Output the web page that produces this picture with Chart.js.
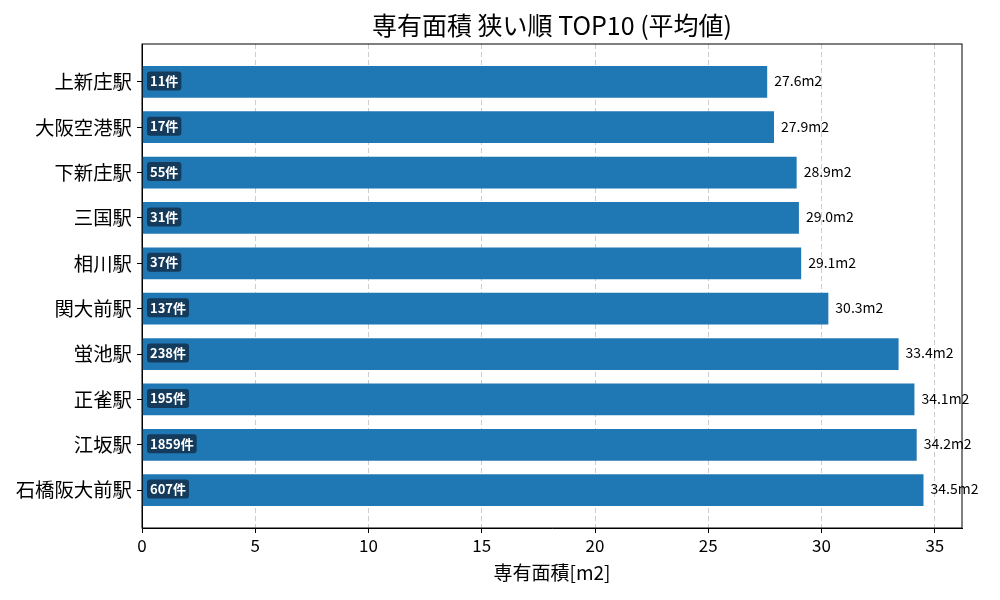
<!DOCTYPE html>
<html>
<head>
<meta charset="utf-8">
<script src="https://cdn.jsdelivr.net/npm/chart.js@4.4.1/dist/chart.umd.min.js"></script>
<style>
  html, body { margin: 0; padding: 0; background: #fff; }
  #wrap { width: 1000px; height: 600px; }
</style>
</head>
<body>
<div id="wrap"><canvas id="chart" width="1000" height="600"></canvas></div>
<script>
const stations = ['上新庄駅', '大阪空港駅', '下新庄駅', '三国駅', '相川駅', '関大前駅', '蛍池駅', '正雀駅', '江坂駅', '石橋阪大前駅'];
const areas = [27.6, 27.9, 28.9, 29.0, 29.1, 30.3, 33.4, 34.1, 34.2, 34.5];
const counts = [11, 17, 55, 31, 37, 137, 238, 195, 1859, 607];
const xTicks = [0, 5, 10, 15, 20, 25, 30, 35];
const titleText = '専有面積 狭い順 TOP10 (平均値)';

const FONT = "'Noto Sans CJK JP', 'Noto Sans', sans-serif";

// box around plot area + title centred over it
const frame = {
    id: 'frame',
    afterDraw(chart) {
        const { ctx, chartArea: a } = chart;
        ctx.save();
        ctx.strokeStyle = '#000';
        ctx.lineWidth = 1;
        ctx.strokeRect(a.left, a.top, a.right - a.left, a.bottom - a.top);
        ctx.font = `25px ${FONT}`;
        ctx.fillStyle = '#000';
        ctx.textAlign = 'center';
        ctx.textBaseline = 'middle';
        ctx.fillText(titleText, (a.left + a.right) / 2, 25);
        ctx.restore();
    }
};

// value labels to the right, counts inside at left
const barLabels = {
    id: 'barLabels',
    afterDatasetsDraw(chart) {
        const { ctx } = chart;
        const meta = chart.getDatasetMeta(0);
        const xs = chart.scales.x;
        ctx.save();
        meta.data.forEach((bar, i) => {
            ctx.font = `14px ${FONT}`;
            ctx.fillStyle = '#000';
            ctx.textAlign = 'left';
            ctx.textBaseline = 'middle';
            ctx.fillText(areas[i].toFixed(1) + 'm2', bar.x + 7, bar.y - 1);

            const txt = counts[i] + '件';
            ctx.font = `bold 13px ${FONT}`;
            const w = ctx.measureText(txt).width;
            const bx = xs.getPixelForValue(0) + 5;
            const bh = 19;
            ctx.fillStyle = '#143b5c';
            ctx.beginPath();
            ctx.roundRect(bx, bar.y - bh / 2 - 1, w + 6, bh, 3);
            ctx.fill();
            ctx.fillStyle = '#fff';
            ctx.fillText(txt, bx + 3, bar.y - 1);
        });
        ctx.restore();
    }
};

new Chart(document.getElementById('chart'), {
    type: 'bar',
    data: {
        datasets: [{
            data: areas.map((v, i) => ({ x: v, y: i })),
            backgroundColor: '#1f77b4',
            borderWidth: 0,
            barPercentage: 0.7,
            categoryPercentage: 1.0
        }]
    },
    options: {
        indexAxis: 'y',
        responsive: false,
        animation: false,
        layout: { padding: { left: 0, right: 38, top: 44, bottom: 16 } },
        plugins: {
            legend: { display: false },
            tooltip: { enabled: false },
            title: { display: false }
        },
        scales: {
            x: {
                type: 'linear',
                min: 0,
                max: 36.2,
                afterFit(s) { s.height = 56; },
                afterBuildTicks(s) { s.ticks = xTicks.map(v => ({ value: v })); },
                ticks: {
                    color: '#000',
                    font: { family: FONT, size: 17 },
                    padding: 2
                },
                grid: {
                    color: '#cccccc',
                    tickColor: '#000',
                    tickLength: 5,
                    tickBorderDash: []
                },
                border: { display: true, color: '#000', dash: [5, 3] },
                title: {
                    display: true,
                    text: '専有面積[m2]',
                    color: '#000',
                    font: { family: FONT, size: 19 },
                    padding: { top: 0, bottom: 0 }
                }
            },
            y: {
                type: 'linear',
                reverse: true,
                offset: false,
                min: -0.835,
                max: 9.835,
                afterFit(s) { s.width = 142; },
                afterBuildTicks(s) { s.ticks = stations.map((_, i) => ({ value: i })); },
                ticks: {
                    color: '#000',
                    font: { family: FONT, size: 19.4 },
                    padding: 5,
                    callback: (v) => stations[v]
                },
                grid: {
                    offset: false,
                    drawOnChartArea: false,
                    tickColor: '#000',
                    tickLength: 5
                },
                border: { display: true, color: '#000' }
            }
        }
    },
    plugins: [frame, barLabels]
});
</script>
</body>
</html>
